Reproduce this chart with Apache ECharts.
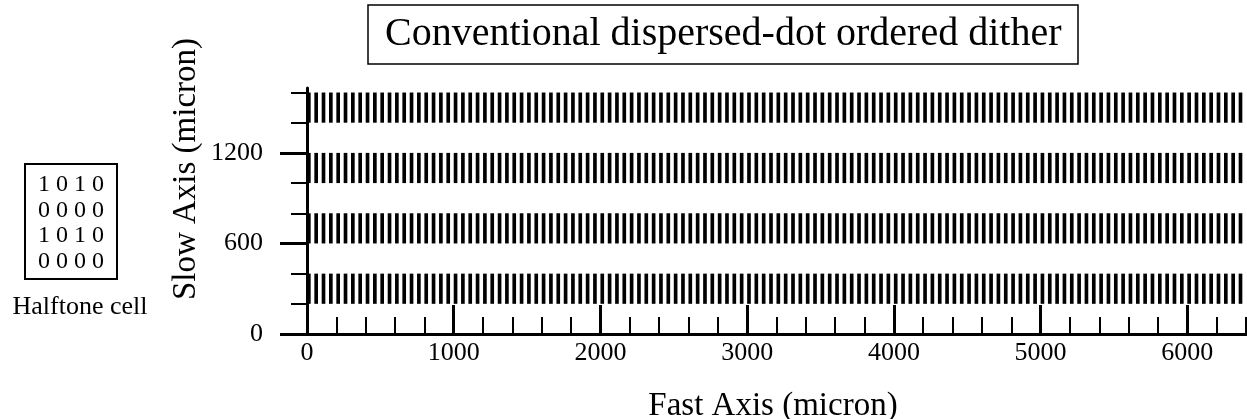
<!DOCTYPE html>
<html>
<head>
<meta charset="utf-8">
<script src="https://cdn.jsdelivr.net/npm/echarts@6/dist/echarts.min.js"></script>
<style>html,body{margin:0;padding:0;background:#fff}#c{width:1247px;height:419px}</style>
</head>
<body>
<div id="c"></div>
<script>
// ---- data ----
var titleText = 'Conventional dispersed-dot ordered dither';
var xName = 'Fast Axis (micron)';
var yName = 'Slow Axis (micron)';
var cellLabel = 'Halftone cell';
var halftoneCell = ['1 0 1 0', '0 0 0 0', '1 0 1 0', '0 0 0 0'];
var dotWidth = 25; // micron, fast axis
// start of each printed dot column along the fast axis (micron)
var columnStarts = [
  0, 50, 100, 150, 200, 250, 300, 350, 400, 450, 500, 550, 600, 650, 700, 750,
  800, 850, 900, 950, 1000, 1050, 1100, 1150, 1200, 1250, 1300, 1350, 1400, 1450, 1500, 1550,
  1600, 1650, 1700, 1750, 1800, 1850, 1900, 1950, 2000, 2050, 2100, 2150, 2200, 2250, 2300, 2350,
  2400, 2450, 2500, 2550, 2600, 2650, 2700, 2750, 2800, 2850, 2900, 2950, 3000, 3050, 3100, 3150,
  3200, 3250, 3300, 3350, 3400, 3450, 3500, 3550, 3600, 3650, 3700, 3750, 3800, 3850, 3900, 3950,
  4000, 4050, 4100, 4150, 4200, 4250, 4300, 4350, 4400, 4450, 4500, 4550, 4600, 4650, 4700, 4750,
  4800, 4850, 4900, 4950, 5000, 5050, 5100, 5150, 5200, 5250, 5300, 5350, 5400, 5450, 5500, 5550,
  5600, 5650, 5700, 5750, 5800, 5850, 5900, 5950, 6000, 6050, 6100, 6150, 6200, 6250, 6300, 6350
];
// printed rows along the slow axis [start, end] (micron)
var rowBands = [[200, 400], [600, 800], [1000, 1200], [1400, 1600]];
var xMajorTicks = [0, 1000, 2000, 3000, 4000, 5000, 6000];
var xMinorTicks = [200, 400, 600, 800, 1200, 1400, 1600, 1800, 2200, 2400, 2600, 2800,
  3200, 3400, 3600, 3800, 4200, 4400, 4600, 4800, 5200, 5400, 5600, 5800, 6200, 6400];
var yMajorTicks = [0, 600, 1200];
var yMinorTicks = [200, 400, 800, 1000, 1400, 1600];
var xMax = 6400, yMax = 1630;

// ---- build dots table ----
var dots = [];
rowBands.forEach(function (r) {
  columnStarts.forEach(function (c) {
    dots.push([c, c + dotWidth, r[0], r[1]]);
  });
});

var FONT = '"Liberation Serif", "Times New Roman", serif';
var chart = echarts.init(document.getElementById('c'), null, {renderer: 'canvas'});
function plain(v) { return String(v); }

function xAxisBase(extra) {
  return Object.assign({
    type: 'value', min: 0, max: xMax, position: 'bottom',
    splitLine: {show: false}
  }, extra);
}
function yAxisBase(extra) {
  return Object.assign({
    type: 'value', min: 0, max: yMax, position: 'left',
    splitLine: {show: false}
  }, extra);
}

chart.setOption({
  animation: false,
  backgroundColor: '#fff',
  title: {
    text: titleText,
    left: 368, top: 5,
    padding: [7, 17, 7, 17],
    borderColor: '#000', borderWidth: 1.5,
    textStyle: {fontFamily: FONT, fontSize: 40, fontWeight: 'normal', color: '#000', lineHeight: 45}
  },
  grid: {left: 307, right: 1, top: 88, bottom: 85, containLabel: false, outerBoundsMode: 'none'},
  xAxis: [
    xAxisBase({
      axisLine: {show: true, lineStyle: {color: '#000', width: 3}},
      axisTick: {show: true, inside: true, length: 29, customValues: xMajorTicks, lineStyle: {color: '#000', width: 3}},
      axisLabel: {show: true, customValues: xMajorTicks, formatter: plain, margin: 6, fontFamily: FONT, fontSize: 26, color: '#000'}
    }),
    xAxisBase({
      axisLine: {show: false},
      axisTick: {show: true, inside: true, length: 17, customValues: xMinorTicks, lineStyle: {color: '#000', width: 2}},
      axisLabel: {show: false}
    })
  ],
  yAxis: [
    yAxisBase({
      axisLine: {show: true, lineStyle: {color: '#000', width: 3}},
      axisTick: {show: true, inside: false, length: 27, customValues: yMajorTicks, lineStyle: {color: '#000', width: 3}},
      axisLabel: {show: true, customValues: yMajorTicks, formatter: plain, margin: 44, fontFamily: FONT, fontSize: 26, color: '#000'}
    }),
    yAxisBase({
      axisLine: {show: false},
      axisTick: {show: true, inside: false, length: 16, customValues: yMinorTicks, lineStyle: {color: '#000', width: 2}},
      axisLabel: {show: false}
    })
  ],
  graphic: [
    {type: 'text', x: 186, y: 169, rotation: Math.PI / 2,
     style: {text: yName, font: '33px ' + FONT, fill: '#000', align: 'center', verticalAlign: 'middle'}},
    {type: 'text', x: 773, y: 406,
     style: {text: xName, font: '33px ' + FONT, fill: '#000', align: 'center', verticalAlign: 'middle'}},
    {type: 'rect', shape: {x: 25, y: 164, width: 92, height: 115},
     style: {fill: 'none', stroke: '#000', lineWidth: 2}},
    {type: 'text', x: 71, y: 172,
     style: {text: halftoneCell.join('\n'), font: '24px ' + FONT, lineHeight: 25.5, fill: '#000', align: 'center', verticalAlign: 'top'}},
    {type: 'text', x: 80, y: 307,
     style: {text: cellLabel, font: '26px ' + FONT, fill: '#000', align: 'center', verticalAlign: 'middle'}}
  ],
  series: [{
    type: 'custom',
    xAxisIndex: 0, yAxisIndex: 0,
    clip: true,
    encode: {x: [0, 1], y: [2, 3]},
    data: dots,
    renderItem: function (params, api) {
      var p0 = api.coord([api.value(0), api.value(3)]);
      var p1 = api.coord([api.value(1), api.value(2)]);
      return {
        type: 'rect',
        shape: {x: p0[0], y: p0[1], width: p1[0] - p0[0], height: p1[1] - p0[1]},
        style: {fill: '#000'}
      };
    }
  }]
});
</script>
</body>
</html>
